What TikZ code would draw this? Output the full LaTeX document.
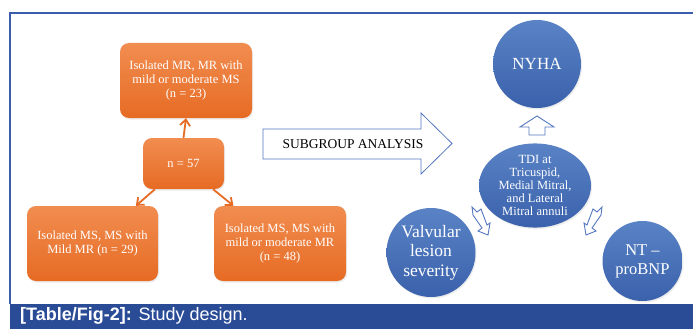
\documentclass[tikz,border=0pt]{standalone}
\usepackage{fontspec}
\setmainfont{Liberation Serif}
\newfontfamily\leyendafont{Liberation Sans}
\usetikzlibrary{shapes.geometric, arrows.meta, shadows}
\definecolor{naranjaclaro}{HTML}{F18D50}
\definecolor{naranjaoscuro}{HTML}{E66B24}
\definecolor{azulclaro}{HTML}{5A83C6}
\definecolor{azuloscuro}{HTML}{3A61AB}
\definecolor{azulmarco}{HTML}{3A5DAE}
\definecolor{azulbarra}{HTML}{2A4C97}
\definecolor{azulflecha}{HTML}{5578C0}

\begin{document}
\begin{tikzpicture}[x=1pt, y=-1pt,
    caja/.style={rectangle, rounded corners=9pt, top color=naranjaclaro, bottom color=naranjaoscuro,
      text=white, align=center, font=\fontsize{12.5}{13.8}\selectfont, inner sep=2pt,
      drop shadow={opacity=0.15, shadow xshift=1pt, shadow yshift=-1.5pt}},
    burbuja/.style={circle, top color=azulclaro, bottom color=azuloscuro, text=white, align=center,
      inner sep=1pt, drop shadow={opacity=0.15, shadow xshift=1pt, shadow yshift=-1.5pt}},
    enlace/.style={draw=naranjaoscuro, line width=1.8pt, -{Straight Barb[length=6pt, width=10pt]}},
    hueco/.style={draw=azulflecha, fill=white, line width=0.9pt, line join=miter}]
  \useasboundingbox (0,0) rectangle (693,329);
  \fill[white] (0,0) rectangle (693,329);
  % marco y barra de la leyenda
  \draw[azulmarco, line width=1.2pt] (10,304) -- (10,13) -- (693,13);
  \fill[azulbarra] (10,304) rectangle (693,329);
  \node[anchor=base west, text=white, inner sep=0pt, font=\leyendafont\fontsize{18}{19}\selectfont]
    (leyenda) at (20,320) {\textbf{[Table/Fig-2]:} Study design.};

  % cajas naranjas
  \node[caja, minimum width=132pt, minimum height=75pt] (mr) at (186,80.5)
    {Isolated MR, MR with\\ mild or moderate MS\\ (n = 23)};
  \node[caja, minimum width=81pt, minimum height=51pt] (total) at (183.5,163.5) {n = 57};
  \node[caja, minimum width=131pt, minimum height=75pt] (msleve) at (92.5,243.5)
    {Isolated MS, MS with\\ Mild MR (n = 29)};
  \node[caja, minimum width=132pt, minimum height=75pt] (msmod) at (280,243.5)
    {Isolated MS, MS with\\ mild or moderate MR\\ (n = 48)};
  \draw[enlace] (total.north) -- (mr.south);
  \draw[enlace] (total.222) -- (msleve.41);
  \draw[enlace] (total.-41) -- (msmod.141);

  % flecha grande
  \draw[draw=azulflecha, fill=white, line width=0.8pt, line join=miter]
    (263,129) -- (421,129) -- (421,113) -- (452,143.5) -- (421,174) -- (421,159) -- (263,159) -- cycle;
  \node[font=\fontsize{13.5}{15}\selectfont] (analisis) at (353,144) {SUBGROUP ANALYSIS};

  % burbujas azules
  \node[burbuja, minimum size=88pt, font=\fontsize{17}{19.5}\selectfont] (nyha) at (537,64) {NYHA};
  \node[ellipse, top color=azulclaro, bottom color=azuloscuro, text=white, align=center, inner sep=0pt,
    minimum width=112pt, minimum height=76pt, font=\fontsize{12.5}{12.8}\selectfont,
    drop shadow={opacity=0.15, shadow xshift=1pt, shadow yshift=-1.5pt}] (tdi) at (535,185.5)
    {TDI at\\ Tricuspid,\\ Medial Mitral,\\ and Lateral\\ Mitral annuli};
  \node[burbuja, minimum size=89pt, font=\fontsize{17.5}{19.5}\selectfont] (valvular) at (431,252.5)
    {Valvular\\ lesion\\ severity};
  \node[burbuja, minimum size=80pt, font=\fontsize{16.5}{19}\selectfont] (ntbnp) at (642.5,261)
    {NT --\\ proBNP};

  % flechitas huecas
  \draw[hueco] (529,135) -- (529,127) -- (520,127) -- (537,116) -- (554,127) -- (545,127) -- (545,135) -- cycle;
  \draw[hueco] (472,207) -- (477,212) -- (481,209) -- (487,225) -- (490,223) -- (488,235)
    -- (478,231) -- (482,228) -- (473,215) -- cycle;
  \draw[hueco] (602,207) -- (597,212) -- (593,209) -- (587,225) -- (584,223) -- (586,235)
    -- (596,231) -- (592,228) -- (601,215) -- cycle;
\end{tikzpicture}
\end{document}
